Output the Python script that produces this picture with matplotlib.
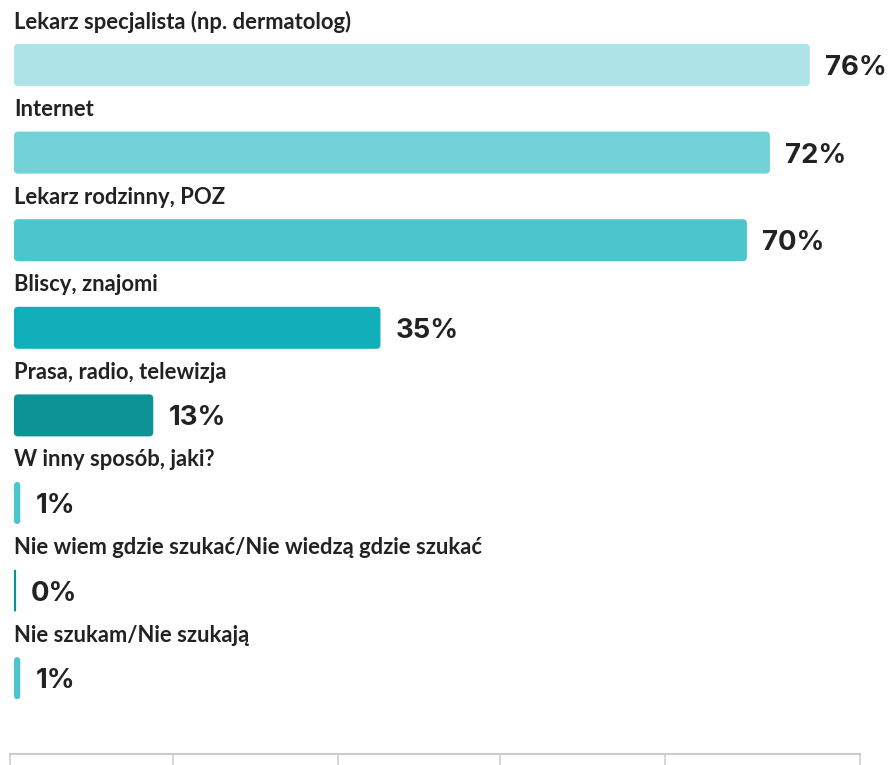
import matplotlib.pyplot as plt
from matplotlib.patches import FancyBboxPatch

# answers, estimated shares and bar colours
categories = [
    "Lekarz specjalista (np. dermatolog)",
    "Internet",
    "Lekarz rodzinny, POZ",
    "Bliscy, znajomi",
    "Prasa, radio, telewizja",
    "W inny sposób, jaki?",
    "Nie wiem gdzie szukać/Nie wiedzą gdzie szukać",
    "Nie szukam/Nie szukają",
]
shares = [76.0, 72.2, 70.0, 35.0, 13.3, 0.6, 0.2, 0.6]
colors = ["#aee3e7", "#72d2d7", "#4cc5cc", "#10afba", "#0b9396",
          "#4cc5cc", "#0b9396", "#4cc5cc"]

W, H = 888, 765
PX_PER_PCT = 10.47   # horizontal scale
ROW = 87.6           # row pitch in px
X0 = 14              # left edge of bars
Y0 = 65              # centre of first bar

fig = plt.figure(figsize=(W / 100, H / 100), dpi=100)
ax = fig.add_axes([0, 0, 1, 1])
ax.set_xlim(-X0 / PX_PER_PCT, (W - X0) / PX_PER_PCT)
ax.set_ylim((H - Y0) / ROW, -Y0 / ROW)
ax.axis("off")

bar_h = 42 / ROW
rounding = 4 / PX_PER_PCT
aspect = PX_PER_PCT / ROW

for i, (cat, v, c) in enumerate(zip(categories, shares, colors)):
    ax.add_patch(FancyBboxPatch(
        (0, i - bar_h / 2), v, bar_h,
        boxstyle=f"round,pad=0,rounding_size={min(rounding, v / 2)}",
        mutation_aspect=aspect, facecolor=c, edgecolor="none"))
    ax.text(0, i - 43 / ROW, cat, fontfamily="Lato", fontweight="bold",
            fontsize=15.8, color="#222222", va="center", ha="left")
    ax.text(v + 15 / PX_PER_PCT, i + 3 / ROW, f"{round(v)}%",
            fontfamily="Inter", fontweight="bold", fontsize=19.8,
            color="#222222", va="center", ha="left")

# bottom frame line with ticks
bx = fig.add_axes([10 / W, 0, 850 / W, 11 / H])
bx.set_xlim(0, 1)
bx.set_ylim(0, 1)
bx.patch.set_alpha(0)
for s in ("left", "right", "bottom"):
    bx.spines[s].set_visible(False)
bx.spines["top"].set_color("#cccccc")
bx.spines["top"].set_linewidth(1.5)
bx.xaxis.tick_top()
bx.set_xticks([0, 0.192, 0.386, 0.576, 0.771, 1.0])
bx.tick_params(axis="x", direction="in", length=8, width=1.1,
               color="#cccccc", labeltop=False)
bx.set_yticks([])

fig.savefig("out.png", dpi=100)
